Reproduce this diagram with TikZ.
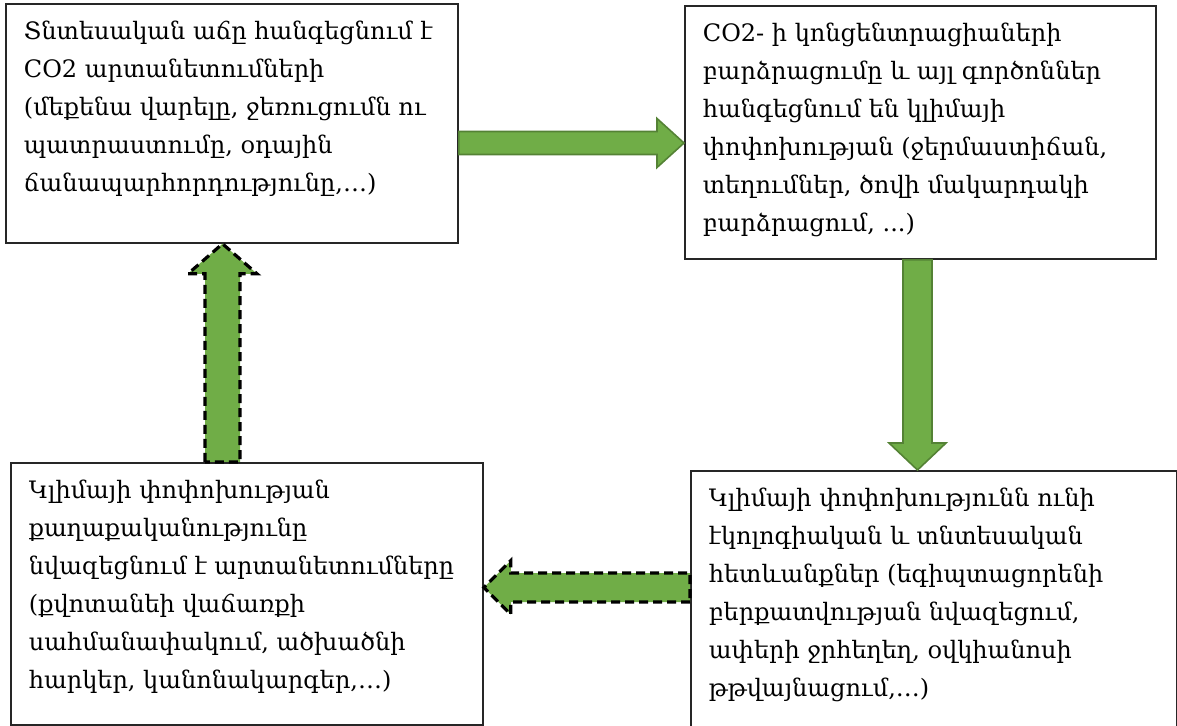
\documentclass[tikz,border=0pt]{standalone}
\usepackage{fontspec}
\setmainfont{DejaVu Serif}
\usetikzlibrary{calc}
\definecolor{leaf}{RGB}{112,173,71}
\definecolor{leafline}{RGB}{84,130,53}
\newcommand\cell[3]{\parbox[t][#2][t]{#1}{\raggedright\rule{0pt}{18pt}#3}}

\begin{document}
\begin{tikzpicture}[x=0.5pt,y=-0.5pt,% one unit = one pixel of the layout
    every node/.style={font=\fontsize{12}{19}\selectfont},
    box/.style={rectangle,draw=black!85,line width=0.9pt,anchor=north west,
                inner xsep=9pt,inner ysep=0pt},
    fatarrow/.style n args={3}{to path={% #1 half shaft, #2 half head, #3 head length
        ($(\tikztostart)!#1!90:(\tikztotarget)$)
        -- ($($(\tikztotarget)!#3!(\tikztostart)$)!#1!-90:(\tikztostart)$)
        -- ($($(\tikztotarget)!#3!(\tikztostart)$)!#2!-90:(\tikztostart)$)
        -- (\tikztotarget)
        -- ($($(\tikztotarget)!#3!(\tikztostart)$)!#2!90:(\tikztostart)$)
        -- ($($(\tikztotarget)!#3!(\tikztostart)$)!#1!90:(\tikztostart)$)
        -- ($(\tikztostart)!#1!-90:(\tikztotarget)$) -- cycle}},
    solidarrow/.style={fill=leaf,draw=leafline,line width=0.8pt,line join=miter},
    dasharrow/.style={fill=leaf,draw=black,line width=1.6pt,dash pattern=on 4.5pt off 2.5pt}
  ]
  \useasboundingbox (0,0) rectangle (1177,726);

  \node[box] (growth) at (5,3) {\cell{208pt}{119.5pt}{%
    Տնտեսական աճը հանգեցնում է\\
    CO2 արտանետումների\\
    (մեքենա վարելը, ջեռուցումն ու\\
    պատրաստումը, օդային\\
    ճանապարհորդությունը,…)}};
  \node[box] (climate) at (684,5) {\cell{217.5pt}{126.5pt}{%
    CO2- ի կոնցենտրացիաների\\
    բարձրացումը և այլ գործոններ\\
    հանգեցնում են կլիմայի\\
    փոփոխության (ջերմաստիճան,\\
    տեղումներ, ծովի մակարդակի\\
    բարձրացում, ...)}};
  \node[box] (policy) at (10,462) {\cell{218pt}{131pt}{%
    Կլիմայի փոփոխության\\
    քաղաքականությունը\\
    նվազեցնում է արտանետումները\\
    (քվոտանեի վաճառքի\\
    սահմանափակում, ածխածնի\\
    հարկեր, կանոնակարգեր,…)}};
  \node[box] (effects) at (690,470) {\cell{225pt}{128.5pt}{%
    Կլիմայի փոփոխությունն ունի\\
    էկոլոգիական և տնտեսական\\
    հետևանքներ (եգիպտացորենի\\
    բերքատվության նվազեցում,\\
    ափերի ջրհեղեղ, օվկիանոսի\\
    թթվայնացում,…)}};

  % arrow ends on the box edges
  \coordinate (r1) at (growth.east |- 0,143);
  \coordinate (r2) at (climate.west |- 0,143);
  \coordinate (d1) at (climate.south -| 917.5,0);
  \coordinate (d2) at (effects.north -| 917.5,0);
  \coordinate (l1) at (effects.west |- 0,587.5);
  \coordinate (l2) at (policy.east |- 0,587.5);
  \coordinate (u1) at (policy.north -| 222.5,0);
  \coordinate (u2) at (growth.south -| 222.5,0);

  \draw[solidarrow] (r1) to[fatarrow={5.75pt}{12.25pt}{13.5pt}] (r2);
  \draw[solidarrow] (d1) to[fatarrow={7.25pt}{14.25pt}{13.5pt}] (d2);
  \draw[dasharrow] (l1) to[fatarrow={7.25pt}{13.5pt}{13.5pt}] (l2);
  \draw[dasharrow] (u1) to[fatarrow={8.75pt}{17.25pt}{15pt}] (u2);
\end{tikzpicture}
\end{document}
